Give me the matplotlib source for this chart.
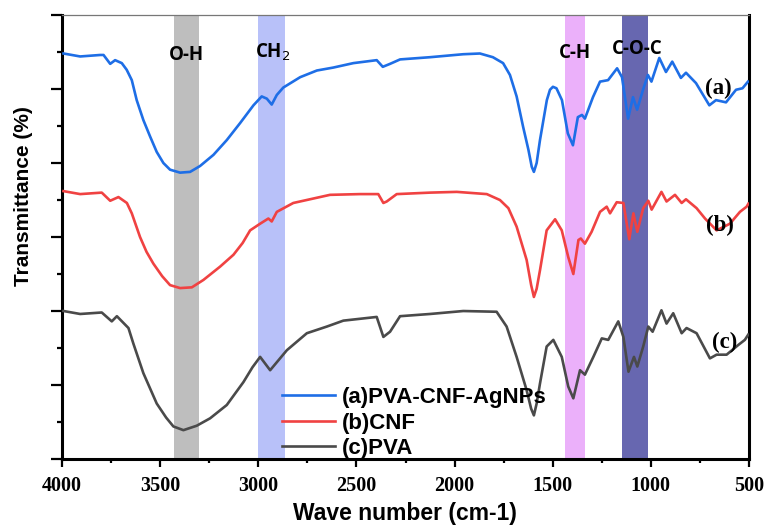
import matplotlib
matplotlib.use("Agg")
import matplotlib.pyplot as plt
from matplotlib.ticker import MultipleLocator

# wavenumber (cm-1) / transmittance (offset, arbitrary units)
wn_a = [3993, 3908, 3806, 3789, 3755, 3730, 3696, 3671, 3645, 3620, 3586, 3552, 3518,
        3484, 3450, 3399, 3348, 3297, 3229, 3161, 3093, 3025, 2983, 2957, 2932, 2906,
        2873, 2787, 2702, 2618, 2516, 2397, 2366, 2329, 2278, 2125, 1957, 1871, 1805,
        1753, 1718, 1684, 1651, 1624, 1607, 1596, 1582, 1565, 1530, 1514, 1499, 1481,
        1453, 1423, 1397, 1372, 1351, 1336,
        1295, 1259, 1218, 1172, 1147, 1116, 1091, 1070, 1040, 1015, 997, 957, 923, 891,
        847, 821, 770, 702, 668, 617, 566, 533, 505]
tr_a = [5.48, 5.44, 5.46, 5.46, 5.34, 5.39, 5.35, 5.26, 5.12, 4.85, 4.58, 4.36, 4.15,
        4.00, 3.91, 3.87, 3.88, 3.96, 4.11, 4.31, 4.54, 4.78, 4.90, 4.87, 4.79, 4.92,
        5.02, 5.16, 5.25, 5.29, 5.35, 5.39, 5.30, 5.34, 5.40, 5.43, 5.47, 5.48, 5.43,
        5.35, 5.19, 4.90, 4.49, 4.18, 3.95, 3.88, 4.00, 4.31, 4.85, 4.99, 5.03, 5.01,
        4.85, 4.40, 4.24, 4.62, 4.65, 4.60,
        4.89, 5.10, 5.12, 5.28, 5.16, 4.60, 4.89, 4.72, 4.99, 5.19, 5.10, 5.42, 5.23, 5.37,
        5.15, 5.22, 5.08, 4.78, 4.85, 4.82, 4.99, 5.01, 5.10]

wn_b = [3993, 3908, 3798, 3755, 3713, 3670, 3645, 3603, 3570, 3535, 3490, 3450, 3399,
        3339, 3280, 3195, 3127, 3080, 3042, 2991, 2949, 2932, 2906, 2822, 2737, 2635,
        2482, 2389, 2363, 2346, 2295, 2125, 1989, 1836, 1769, 1726, 1684, 1633, 1610,
        1596, 1582, 1565, 1531, 1488, 1454, 1421, 1395, 1369, 1357, 1336, 1302, 1259,
        1225, 1208, 1174, 1140, 1110, 1089, 1069, 1039, 1013, 996, 946, 920, 877, 843,
        821, 767, 724, 665, 597, 546, 512, 503]
tr_b = [3.62, 3.58, 3.60, 3.49, 3.54, 3.46, 3.32, 3.00, 2.80, 2.64, 2.47, 2.35, 2.31,
        2.32, 2.42, 2.60, 2.76, 2.92, 3.09, 3.18, 3.25, 3.21, 3.34, 3.46, 3.51, 3.57,
        3.58, 3.58, 3.46, 3.48, 3.58, 3.60, 3.61, 3.58, 3.50, 3.39, 3.14, 2.69, 2.35,
        2.19, 2.30, 2.55, 3.09, 3.24, 3.09, 2.73, 2.50, 2.96, 2.98, 2.91, 3.07, 3.34,
        3.41, 3.32, 3.47, 3.46, 2.97, 3.32, 3.07, 3.39, 3.49, 3.37, 3.61, 3.48, 3.57, 3.46,
        3.51, 3.39, 3.25, 3.09, 3.18, 3.34, 3.41, 3.45]

wn_c = [3993, 3908, 3798, 3747, 3721, 3662, 3637, 3586, 3518, 3470, 3433, 3382, 3314,
        3246, 3161, 3076, 3030, 2991, 2940, 2855, 2753, 2651, 2567, 2397, 2363, 2329,
        2278, 2125, 1956, 1786, 1735, 1684, 1633, 1610, 1596, 1582, 1565, 1531, 1497,
        1454, 1421, 1395, 1361, 1336, 1293, 1250, 1217, 1166, 1140, 1114, 1086, 1069,
        1039, 1013, 991, 946, 920, 886, 843, 818, 767, 699, 665, 614, 555, 521, 504]
tr_c = [2.00, 1.96, 1.98, 1.86, 1.93, 1.77, 1.56, 1.16, 0.75, 0.56, 0.44, 0.39, 0.45,
        0.55, 0.73, 1.04, 1.24, 1.38, 1.20, 1.47, 1.70, 1.79, 1.87, 1.92, 1.65, 1.72,
        1.93, 1.96, 2.00, 1.99, 1.79, 1.38, 0.93, 0.68, 0.59, 0.75, 1.02, 1.52, 1.61,
        1.38, 0.98, 0.82, 1.20, 1.14, 1.38, 1.63, 1.61, 1.86, 1.65, 1.18, 1.38, 1.25,
        1.52, 1.79, 1.72, 2.01, 1.83, 1.97, 1.70, 1.77, 1.70, 1.36, 1.41, 1.41, 1.54,
        1.61, 1.68]

series_labels = ["(a)PVA-CNF-AgNPs", "(b)CNF", "(c)PVA"]
curve_tags = ["(a)", "(b)", "(c)"]

# assignment bands (cm-1)
band_names = ["O-H", "CH$_2$", "C-H", "C-O-C"]
band_lo = [3300, 2865, 1337, 1016]
band_hi = [3430, 3000, 1440, 1147]

fig, ax = plt.subplots(figsize=(7.67, 5.27), dpi=100)
fig.subplots_adjust(left=0.081, right=0.9765, bottom=0.129, top=0.9715)

band_colors = ["#bebebe", "#b8c1f9", "#ebb0fa", "#6767b0"]
for lo, hi, c in zip(band_lo, band_hi, band_colors):
    ax.axvspan(lo, hi, color=c, lw=0, zorder=0)

ax.plot(wn_a, tr_a, color="#1e6ee6", lw=1.9, label=series_labels[0], zorder=3)
ax.plot(wn_b, tr_b, color="#f04242", lw=1.9, label=series_labels[1], zorder=3)
ax.plot(wn_c, tr_c, color="#4a4a4a", lw=1.9, label=series_labels[2], zorder=3)

ax.set_xlim(4000, 500)
ax.set_ylim(0, 6)

# band labels
band_x = [3368, 2925, 1387, 1071]
band_y = [5.46, 5.49, 5.48, 5.54]
for name, bx, by in zip(band_names, band_x, band_y):
    ax.text(bx, by, name, ha="center", va="center", fontsize=13.5,
            fontweight="bold", family="Open Sans", zorder=4)

# curve tags
tag_x = [655, 648, 625]
tag_y = [5.01, 3.16, 1.57]
for t, tx, ty in zip(curve_tags, tag_x, tag_y):
    ax.text(tx, ty, t, ha="center", va="center", fontsize=16.5,
            fontweight="bold", family="Liberation Serif", zorder=4)

ax.legend(loc="lower left", bbox_to_anchor=(0.32, 0.0), frameon=False,
          prop={"family": "Liberation Sans", "weight": "bold", "size": 16},
          handlelength=2.4, handletextpad=0.3, labelspacing=0.2,
          borderpad=0, borderaxespad=0)

ax.xaxis.set_major_locator(MultipleLocator(500))
ax.xaxis.set_minor_locator(MultipleLocator(250))
ax.yaxis.set_major_locator(MultipleLocator(1))
ax.yaxis.set_minor_locator(MultipleLocator(0.5))
ax.set_yticklabels([])
ax.tick_params(axis="x", which="major", direction="out", length=6, width=1.6, pad=6)
ax.tick_params(axis="x", which="minor", direction="out", length=3, width=1.6)
ax.tick_params(axis="y", which="major", direction="out", length=8, width=1.6)
ax.tick_params(axis="y", which="minor", direction="out", length=3.5, width=1.6)
for lab in ax.get_xticklabels():
    lab.set_family("Liberation Serif")
    lab.set_fontweight("bold")
    lab.set_fontsize(14.5)

for side in ["left", "bottom", "right"]:
    ax.spines[side].set_linewidth(2.2)
    ax.spines[side].set_color("black")
ax.spines["top"].set_linewidth(0.9)
ax.spines["top"].set_color("#777777")

ax.set_xlabel("Wave number (cm-1)", family="Liberation Sans", fontweight="bold",
              fontsize=16.5)
ax.set_ylabel("Transmittance (%)", family="Liberation Sans", fontweight="bold",
              fontsize=15)
ax.xaxis.set_label_coords(0.499, -0.096)
ax.yaxis.set_label_coords(-0.043, 0.592)

fig.savefig("out.png", dpi=100)
